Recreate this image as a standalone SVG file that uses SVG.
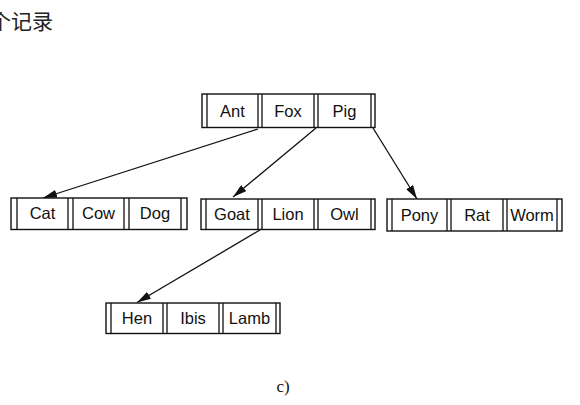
<svg xmlns="http://www.w3.org/2000/svg" width="580" height="405" viewBox="0 0 580 405">
<style>
.box{fill:#fff;stroke:#111;stroke-width:1.4}
.sep{stroke:#111;stroke-width:1.3}
.lbl{font-family:"Liberation Sans",Arial,sans-serif;font-size:16.5px;fill:#111;text-anchor:middle}
.edge{stroke:#111;stroke-width:1.3;fill:none}
</style>
<defs>
<marker id="ah" viewBox="0 0 14 8" refX="14" refY="4" markerWidth="14" markerHeight="8" markerUnits="userSpaceOnUse" orient="auto">
<path d="M0,0 L14,4 L0,8 Z" fill="#111"/>
</marker>
</defs>
<rect width="580" height="405" fill="#fff"/>
<text x="-10" y="29" font-family="'Noto Sans CJK SC',sans-serif" font-size="21" fill="#222">个记录</text>
<g id="connectors">
<line class="edge" x1="258" y1="129" x2="43" y2="198" marker-end="url(#ah)"/>
<line class="edge" x1="316" y1="128" x2="233" y2="197" marker-end="url(#ah)"/>
<line class="edge" x1="373" y1="128" x2="417" y2="199" marker-end="url(#ah)"/>
<line class="edge" x1="260" y1="230" x2="137" y2="302.5" marker-end="url(#ah)"/>
</g>
<g id="node-ant-fox-pig">
<rect class="box" x="202" y="94" width="173" height="33.5"/>
<path class="sep" d="M207,94V127.5M258,94V127.5M262,94V127.5M314,94V127.5M318,94V127.5M371,94V127.5"/>
<text class="lbl" x="232.5" y="116.5">Ant</text>
<text class="lbl" x="288" y="116.5">Fox</text>
<text class="lbl" x="344.5" y="116.5">Pig</text>
</g>
<g id="node-cat-cow-dog">
<rect class="box" x="11" y="198" width="176" height="31.5"/>
<path class="sep" d="M17,198V229.5M68,198V229.5M73,198V229.5M124,198V229.5M129,198V229.5M181,198V229.5"/>
<text class="lbl" x="42.5" y="219">Cat</text>
<text class="lbl" x="98.5" y="219">Cow</text>
<text class="lbl" x="155" y="219">Dog</text>
</g>
<g id="node-goat-lion-owl">
<rect class="box" x="201" y="199" width="174" height="30.5"/>
<path class="sep" d="M206,199V229.5M258,199V229.5M262,199V229.5M314,199V229.5M318,199V229.5M371,199V229.5"/>
<text class="lbl" x="232" y="220">Goat</text>
<text class="lbl" x="288" y="220">Lion</text>
<text class="lbl" x="344.5" y="220">Owl</text>
</g>
<g id="node-pony-rat-worm">
<rect class="box" x="387" y="199" width="175" height="32"/>
<path class="sep" d="M392,199V231M447,199V231M451,199V231M503,199V231M507,199V231M557,199V231"/>
<text class="lbl" x="419.5" y="221">Pony</text>
<text class="lbl" x="477" y="221">Rat</text>
<text class="lbl" x="532" y="221">Worm</text>
</g>
<g id="node-hen-ibis-lamb">
<rect class="box" x="106" y="303" width="174" height="30.5"/>
<path class="sep" d="M111,303V333.5M163,303V333.5M167,303V333.5M219,303V333.5M223,303V333.5M276,303V333.5"/>
<text class="lbl" x="137" y="324">Hen</text>
<text class="lbl" x="193" y="324">Ibis</text>
<text class="lbl" x="249.5" y="324">Lamb</text>
</g>
<text x="283" y="392" font-family="'Liberation Serif','Times New Roman',serif" font-size="17" fill="#111" text-anchor="middle">c)</text>
</svg>
